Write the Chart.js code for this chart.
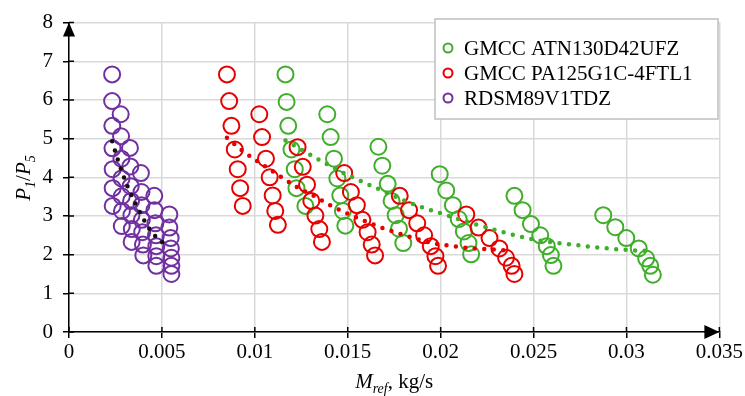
<!DOCTYPE html>
<html>
<head>
<meta charset="utf-8">
<script src="https://cdn.jsdelivr.net/npm/chart.js@4/dist/chart.umd.min.js"></script>
<style>
  html, body { margin: 0; padding: 0; background: #fff; }
  canvas { display: block; }
</style>
</head>
<body>
<canvas id="myChart" width="745" height="396"></canvas>
<script>
// measured points: mass flow (kg/s) and pressure ratio P1/P5
const atnM = [0.01165, 0.01171, 0.0118, 0.01197, 0.01215, 0.01224, 0.01272,
  0.0139, 0.01408, 0.01426, 0.01444, 0.0146, 0.01474, 0.01487,
  0.01665, 0.01686, 0.01715, 0.01736, 0.01758, 0.01776, 0.01799,
  0.01995, 0.0203, 0.02066, 0.02097, 0.02125, 0.0215, 0.02164,
  0.02397, 0.02441, 0.02486, 0.02536, 0.02571, 0.02593, 0.02607,
  0.02875, 0.0294, 0.02999, 0.03066, 0.03106, 0.03128, 0.03142];
const atnP = [6.66, 5.95, 5.33, 4.72, 4.21, 3.72, 3.26,
  5.63, 5.04, 4.48, 3.97, 3.53, 3.13, 2.75,
  4.79, 4.30, 3.83, 3.39, 3.02, 2.67, 2.30,
  4.08, 3.66, 3.28, 2.92, 2.60, 2.30, 2.01,
  3.52, 3.15, 2.79, 2.50, 2.22, 1.99, 1.71,
  3.02, 2.71, 2.43, 2.16, 1.90, 1.71, 1.48];

const paM = [0.0085, 0.00862, 0.00874, 0.00892, 0.00908, 0.00921, 0.00935,
  0.01024, 0.01039, 0.0106, 0.0108, 0.01096, 0.0111, 0.01124,
  0.0123, 0.01258, 0.01281, 0.01304, 0.01326, 0.01347, 0.01361,
  0.01481, 0.01517, 0.01549, 0.01579, 0.01607, 0.01629, 0.01647,
  0.0178, 0.0183, 0.01874, 0.01911, 0.01947, 0.01972, 0.01986,
  0.02138, 0.02204, 0.02263, 0.02316, 0.02352, 0.02382, 0.02397];
const paP = [6.66, 5.97, 5.33, 4.72, 4.21, 3.72, 3.26,
  5.63, 5.04, 4.48, 4.00, 3.53, 3.13, 2.77,
  4.78, 4.27, 3.81, 3.39, 3.01, 2.66, 2.33,
  4.11, 3.62, 3.28, 2.90, 2.58, 2.26, 1.98,
  3.52, 3.15, 2.81, 2.50, 2.22, 1.96, 1.71,
  3.04, 2.70, 2.43, 2.16, 1.92, 1.71, 1.50];

const rdsmM = [0.00232, 0.00232, 0.00233, 0.00234, 0.00235, 0.00235, 0.00235,
  0.00278, 0.0028, 0.00282, 0.00283, 0.00284, 0.00285, 0.00284,
  0.00328, 0.0033, 0.00332, 0.00334, 0.00336, 0.00338, 0.00337,
  0.00387, 0.0039, 0.0039, 0.00392, 0.00394, 0.00398, 0.004,
  0.00459, 0.0046, 0.00465, 0.00468, 0.0047, 0.0047, 0.0047,
  0.0054, 0.0054, 0.00547, 0.00548, 0.00551, 0.00551, 0.00551];
const rdsmP = [6.66, 5.97, 5.33, 4.75, 4.21, 3.72, 3.26,
  5.63, 5.06, 4.48, 3.97, 3.51, 3.13, 2.74,
  4.76, 4.28, 3.77, 3.39, 3.02, 2.66, 2.33,
  4.11, 3.62, 3.28, 2.90, 2.58, 2.26, 1.98,
  3.52, 3.15, 2.81, 2.50, 2.22, 1.96, 1.71,
  3.04, 2.70, 2.43, 2.16, 1.92, 1.71, 1.50];

// trend lines
const atnTrendM = [0.01165, 0.01267, 0.01365, 0.01465, 0.01567, 0.01669, 0.01825, 0.01986,
  0.022, 0.02369, 0.02539, 0.02709, 0.02878, 0.03047, 0.031];
const atnTrendP = [4.95, 4.67, 4.40, 4.14, 3.91, 3.69, 3.36, 3.09,
  2.77, 2.54, 2.36, 2.26, 2.17, 2.11, 2.10];
const paTrendM = [0.0085, 0.00938, 0.01031, 0.01126, 0.01222, 0.0132, 0.0142, 0.01518,
  0.01682, 0.01843, 0.01955, 0.02066, 0.02179, 0.02289, 0.02343];
const paTrendP = [5.02, 4.67, 4.36, 4.06, 3.76, 3.51, 3.24, 3.02,
  2.70, 2.45, 2.30, 2.22, 2.16, 2.13, 2.11];
const rdsmTrendM = [0.00232, 0.00269, 0.00312, 0.00362, 0.00419, 0.00451, 0.00487, 0.00531];
const rdsmTrendP = [4.93, 4.36, 3.80, 3.28, 2.77, 2.55, 2.37, 2.23];

const seriesNames = ['GMCC ATN130D42UFZ', 'GMCC PA125G1C-4FTL1', 'RDSM89V1TDZ'];
const xTicks = [0, 0.005, 0.01, 0.015, 0.02, 0.025, 0.03, 0.035];
const yTicks = [0, 1, 2, 3, 4, 5, 6, 7, 8];

const GREEN = '#3fae2a';
const RED = '#e60000';
const PURPLE = '#7030a0';
const FONT = "'Liberation Serif', 'Times New Roman', serif";

const pts = (xs, ys) => xs.map((x, i) => ({ x: x, y: ys[i] }));

function scatterSet(label, xs, ys, color, order) {
  return {
    label: label,
    data: pts(xs, ys),
    borderColor: color,
    backgroundColor: 'rgba(0,0,0,0)',
    pointRadius: 8,
    pointBorderWidth: 2,
    showLine: false,
    order: order
  };
}

function trendSet(xs, ys, color) {
  return {
    label: 'trend',
    data: pts(xs, ys),
    borderColor: color,
    borderWidth: 4.5,
    borderDash: [0, 9.5],
    borderCapStyle: 'round',
    pointRadius: 0,
    showLine: true,
    cubicInterpolationMode: 'monotone',
    order: 0
  };
}

const datasets = [
  scatterSet(seriesNames[0], atnM, atnP, GREEN, 3),
  scatterSet(seriesNames[1], paM, paP, RED, 2),
  scatterSet(seriesNames[2], rdsmM, rdsmP, PURPLE, 1),
  trendSet(atnTrendM, atnTrendP, GREEN),
  trendSet(paTrendM, paTrendP, RED),
  trendSet(rdsmTrendM, rdsmTrendP, '#111')
];

// arrows, inner tick halves, axis titles, legend box
const decor = {
  id: 'decor',
  afterDraw(chart) {
    const c = chart.ctx;
    const a = chart.chartArea;
    const xs = chart.scales.x, ys = chart.scales.y;
    c.save();
    c.strokeStyle = '#000';
    c.fillStyle = '#000';
    c.lineWidth = 1.5;
    // inner half of tick marks
    c.beginPath();
    xTicks.forEach(v => { const px = xs.getPixelForValue(v); c.moveTo(px, a.bottom); c.lineTo(px, a.bottom - 5); });
    yTicks.forEach(v => { const py = ys.getPixelForValue(v); c.moveTo(a.left, py); c.lineTo(a.left + 5, py); });
    c.stroke();
    // arrow heads
    c.beginPath();
    c.moveTo(a.left, a.top);
    c.lineTo(a.left - 6, a.top + 14);
    c.lineTo(a.left + 6, a.top + 14);
    c.closePath();
    c.fill();
    c.beginPath();
    c.moveTo(a.right, a.bottom);
    c.lineTo(a.right - 15, a.bottom - 7);
    c.lineTo(a.right - 15, a.bottom + 7);
    c.closePath();
    c.fill();

    // x title: M_ref, kg/s
    c.textBaseline = 'alphabetic';
    c.textAlign = 'left';
    const big = '21px ' + FONT, bigI = 'italic 21px ' + FONT, smallI = 'italic 14px ' + FONT;
    const parts = [[bigI, 'M', 0], [smallI, 'ref', 5], [big, ', kg/s', 0]];
    let w = 0;
    parts.forEach(p => { c.font = p[0]; w += c.measureText(p[1]).width; });
    let x = (a.left + a.right) / 2 - w / 2;
    parts.forEach(p => { c.font = p[0]; c.fillText(p[1], x, 388 + p[2]); x += c.measureText(p[1]).width; });

    // y title: P1/P5
    c.save();
    c.translate(30, 178);
    c.rotate(-Math.PI / 2);
    const yp = [[bigI, 'P', 0], [smallI, '1', 5], [big, '/', 0], [bigI, 'P', 0], [smallI, '5', 5]];
    w = 0;
    yp.forEach(p => { c.font = p[0]; w += c.measureText(p[1]).width; });
    x = -w / 2;
    yp.forEach(p => { c.font = p[0]; c.fillText(p[1], x, p[2]); x += c.measureText(p[1]).width; });
    c.restore();

    // legend
    const bx = 435, by = 19, bw = 283, bh = 100;
    c.fillStyle = '#fff';
    c.fillRect(bx, by, bw, bh);
    c.strokeStyle = '#bfbfbf';
    c.lineWidth = 1.5;
    c.strokeRect(bx, by, bw, bh);
    const cols = [GREEN, RED, PURPLE];
    c.font = big;
    c.textBaseline = 'middle';
    seriesNames.forEach((name, i) => {
      const cy = 48 + i * 25;
      c.beginPath();
      c.arc(448, cy, 4.5, 0, Math.PI * 2);
      c.strokeStyle = cols[i];
      c.lineWidth = 2;
      c.stroke();
      c.fillStyle = '#000';
      c.fillText(name, 464, cy + 1);
    });
    c.restore();
  }
};

const tickFont = { family: FONT, size: 21 };

const ctx = document.getElementById('myChart').getContext('2d');
const chart = new Chart(ctx, {
  type: 'scatter',
  data: { datasets: datasets },
  options: {
    responsive: false,
    animation: false,
    layout: { padding: { left: 0, top: 19, right: 25, bottom: 0 } },
    plugins: {
      legend: { display: false },
      tooltip: { enabled: false }
    },
    scales: {
      x: {
        type: 'linear',
        min: 0,
        max: 0.035,
        afterBuildTicks: s => { s.ticks = xTicks.map(v => ({ value: v })); },
        afterFit: s => { s.height = 64; },
        ticks: {
          font: tickFont,
          color: '#000',
          padding: 2,
          maxRotation: 0,
          callback: v => String(parseFloat(v.toFixed(3)))
        },
        grid: { color: '#d9d9d9', lineWidth: 1.5, tickColor: '#000', tickLength: 6, tickWidth: 1.5 },
        border: { color: '#000', width: 1.5 }
      },
      y: {
        type: 'linear',
        min: 0,
        max: 8,
        afterBuildTicks: s => { s.ticks = yTicks.map(v => ({ value: v })); },
        afterFit: s => { s.width = 69; },
        ticks: {
          font: tickFont,
          color: '#000',
          padding: 10,
          callback: v => String(v)
        },
        grid: { color: '#d9d9d9', lineWidth: 1.5, tickColor: '#000', tickLength: 6, tickWidth: 1.5 },
        border: { color: '#000', width: 1.5 }
      }
    }
  },
  plugins: [decor]
});
</script>
</body>
</html>
